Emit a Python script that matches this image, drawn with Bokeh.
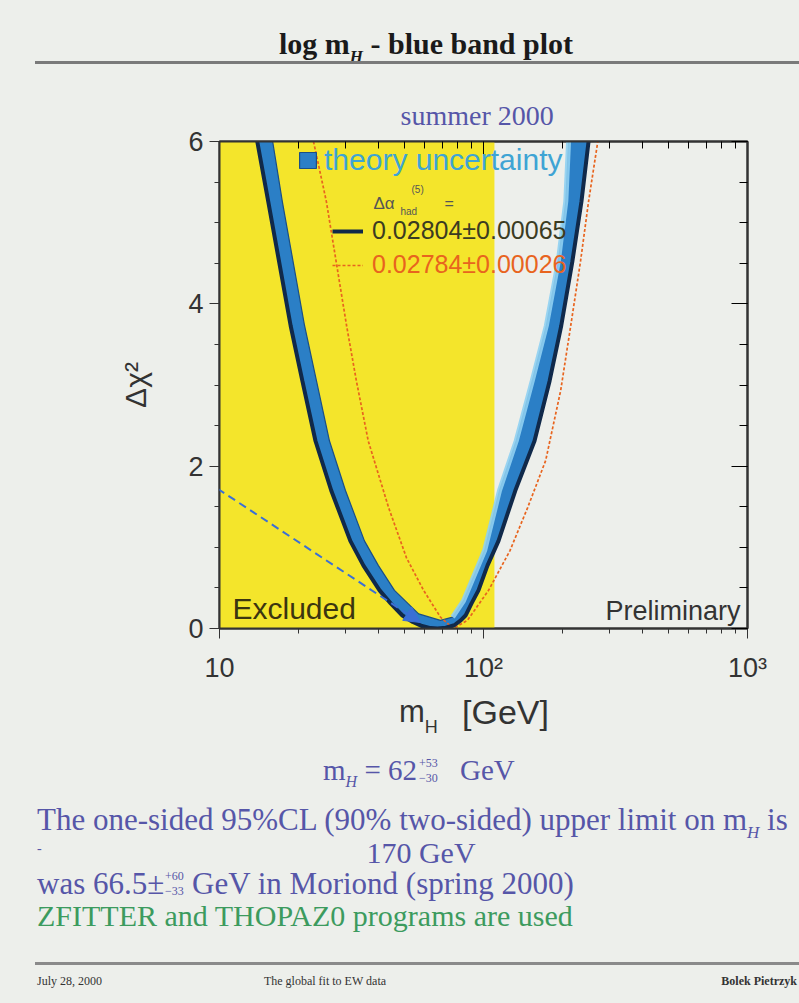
from bokeh.plotting import figure
from bokeh.layouts import column
from bokeh.models import (Range1d, LogAxis, LinearAxis, SingleIntervalTicker, FixedTicker,
                          BasicTickFormatter, CustomJSTickFormatter, BoxAnnotation, Label,
                          Arrow, NormalHead, Legend, LegendItem, Div)
from bokeh.embed import file_html
from bokeh.resources import INLINE

# ------------------------------------------------------------------ data
mass_range = (10, 1000)          # GeV, log axis
chi2_range = (0, 6)
excluded_limit = 110             # GeV, direct-search excluded region (yellow)

# central fit, Delta alpha_had = 0.02804 +- 0.00065 (dark line, outer edge of the band)
fit_mass = [13.9, 15.3, 18.6, 20.6, 23.1, 26.5, 31.3, 35.1, 40.4, 44.5, 49.3,
            54.0, 58.5, 63.0, 67.0, 72.0, 77.5, 82.0, 85.5, 90.1, 95.7, 103.5,
            114, 132, 156, 178, 197, 217, 235, 250]
fit_chi2 = [6.0, 5.26, 3.73, 3.05, 2.31, 1.70, 1.08, 0.775, 0.47, 0.31, 0.16,
            0.08, 0.03, 0.005, 0.0, 0.01, 0.04, 0.10, 0.16, 0.31, 0.47, 0.775,
            1.08, 1.70, 2.31, 3.05, 3.73, 4.52, 5.26, 6.0]

# inner edge of the theory-uncertainty band
band_inner_mass = [15.9, 17.3, 21.0, 23.3, 26.1, 30.0, 35.4, 40.0, 46.0, 56.8, 68.7,
                   76.4, 84.0, 101, 115, 133, 153, 173, 192, 205, 210]
band_inner_chi2 = [6.0, 5.26, 3.73, 3.05, 2.31, 1.70, 1.08, 0.775, 0.47, 0.18, 0.10,
                   0.14, 0.34, 0.96, 1.70, 2.31, 3.05, 3.73, 4.52, 5.26, 6.0]

# alternative fit, Delta alpha_had = 0.02784 +- 0.00026 (red dotted)
alt_mass = [22.7, 25.4, 30.3, 33.0, 36.6, 43.7, 51.1, 59.3, 68.7, 76.9,
            86.9, 104.5, 126, 147, 172, 196, 214, 233, 250, 271]
alt_chi2 = [6.0, 5.26, 3.73, 3.05, 2.31, 1.49, 0.87, 0.47, 0.14, 0.0,
            0.10, 0.47, 0.96, 1.49, 2.07, 2.93, 3.73, 4.52, 5.26, 6.0]

x_major_ticks = [10, 100, 1000]
x_minor_ticks = [k * d for d in (10, 100) for k in range(2, 10)]
x_tick_labels = {10: "10", 100: "10\u00b2", 1000: "10\u00b3"}

# ------------------------------------------------------------------ style
BG = "#edefeb"
YELLOW = "#f4e52b"
BAND = "#2b7fc6"
DARK = "#10294a"
RED = "#e8641e"
TXT = "#333333"
BLUE_TXT = "#5656a8"
GREEN_TXT = "#3c9b5e"
SANS = "Liberation Sans"
SERIF = "Liberation Serif"

PAGE_W = 799
TOP_H = 86
FIG_H = 602
BOT_H = 1003 - TOP_H - FIG_H

p = figure(width=PAGE_W, height=FIG_H, x_axis_type="log",
           x_range=Range1d(*mass_range), y_range=Range1d(*chi2_range),
           output_backend="svg", toolbar_location=None,
           min_border_left=219, min_border_right=52,
           min_border_top=140 - TOP_H, min_border_bottom=60)
p.background_fill_color = BG
p.border_fill_color = BG
p.outline_line_color = "#333333"
p.outline_line_width = 2
p.grid.visible = False

# "summer 2000" as the plot title
p.title.text = "summer 2000"
p.title.text_font = SERIF
p.title.text_font_size = "28px"
p.title.text_font_style = "normal"
p.title.text_color = BLUE_TXT
p.title.align = "left"
p.title.offset = 181
p.title.standoff = 22

# page pixel of frame bottom-left -> screen units of in-frame annotations
FX, FY = 219, 628
def sx(px):
    return px - FX
def sy(py):
    return FY - py

# excluded region
p.add_layout(BoxAnnotation(left=mass_range[0], right=excluded_limit,
                           fill_color=YELLOW, fill_alpha=1.0,
                           line_alpha=0, level="underlay"))

# theory band
band = p.patch(fit_mass + band_inner_mass[::-1], fit_chi2 + band_inner_chi2[::-1],
               fill_color=BAND, line_color="#1b4f86", line_width=1.2)
n_right = 10
p.line(band_inner_mass[-n_right:], band_inner_chi2[-n_right:],
       line_color="#8fd0f2", line_width=5, line_alpha=0.9)
# red dotted alternative
alt = p.line(alt_mass, alt_chi2, line_color=RED, line_width=1.7, line_dash="3 2")
# central fit line
fit = p.line(fit_mass, fit_chi2, line_color=DARK, line_width=4)

# ------------------------------------------------------------------ axes
xticker = FixedTicker(ticks=x_major_ticks, minor_ticks=x_minor_ticks)
yticker = SingleIntervalTicker(interval=2, num_minor_ticks=4)
xa = p.xaxis[0]
xa.ticker = xticker
xa.formatter = BasicTickFormatter()
xa.major_label_overrides = x_tick_labels
ya = p.yaxis[0]
ya.ticker = yticker
for ax in (xa, ya):
    ax.axis_line_width = 2
    ax.axis_line_color = "#333333"
    ax.major_tick_line_color = "#333333"
    ax.minor_tick_line_color = "#333333"
    ax.major_tick_in = 0
    ax.major_tick_out = 10
    ax.minor_tick_in = 0
    ax.minor_tick_out = 5
    ax.major_label_text_font = SANS
    ax.major_label_text_font_size = "27px"
    ax.major_label_text_color = TXT
xa.major_label_standoff = 14
ya.major_label_standoff = 6
ya.axis_label = "\u0394\u03c7\u00b2"
ya.axis_label_text_font = SANS
ya.axis_label_text_font_size = "30px"
ya.axis_label_text_font_style = "normal"
ya.axis_label_text_color = TXT
ya.axis_label_standoff = 33

blank = CustomJSTickFormatter(code="return ''")
top = LogAxis(ticker=xticker, formatter=blank,
              major_tick_in=14, major_tick_out=0,
              minor_tick_in=7, minor_tick_out=0,
              major_label_text_font_size="1px", major_label_standoff=0,
              axis_line_width=2, axis_line_color="#333333")
right = LinearAxis(ticker=yticker, formatter=blank,
                   major_tick_in=16, major_tick_out=0,
                   minor_tick_in=8, minor_tick_out=0,
                   major_label_text_font_size="1px", major_label_standoff=0,
                   axis_line_width=2, axis_line_color="#333333")
p.add_layout(top, "above")
p.add_layout(right, "right")

# ------------------------------------------------------------------ legends
def legend(items, loc, color, size, gw, gh, standoff):
    lg = Legend(items=items, location=loc, padding=0, margin=0, spacing=0,
                border_line_alpha=0, background_fill_alpha=0,
                label_text_font=SANS, label_text_font_size=size,
                label_text_color=color, glyph_width=gw, glyph_height=gh,
                label_standoff=standoff)
    p.add_layout(lg, "center")

legend([LegendItem(label="theory uncertainty", renderers=[band])],
       (sx(297), sy(177)), "#3ea4d4", "30px", 21, 20, 6)
legend([LegendItem(label="0.02804\u00b10.00065", renderers=[fit])],
       (sx(332), sy(245)), "#3b3b22", "25px", 31, 16, 9)
legend([LegendItem(label="0.02784\u00b10.00026", renderers=[alt])],
       (sx(332), sy(279)), RED, "25px", 31, 16, 9)

def lab(text, x, y, size, color=TXT, font=SANS, align="left", style="normal"):
    p.add_layout(Label(x=sx(x), y=sy(y), x_units="screen", y_units="screen",
                       text=text, text_font=font, text_font_size=size,
                       text_color=color, text_align=align, text_baseline="middle",
                       text_font_style=style))

# Delta alpha_had^(5) =
lab("\u0394\u03b1", 373, 203, "17px", "#555555")
lab("(5)", 411, 189, "10px", "#555555")
lab("had", 400, 211, "10px", "#555555")
lab("=", 444, 203, "16px", "#555555")

lab("Excluded", 232, 608, "30px", "#3b3510")
lab("Preliminary", 740, 610, "27px", TXT, align="right")

# ------------------------------------------------------------------ arrow
ARROW = "#3a6fd6"
p.add_layout(Arrow(end=NormalHead(size=16, fill_color=ARROW, line_color=ARROW),
                   x_start=sx(0), y_start=sy(345), x_end=sx(420), y_end=sy(622),
                   start_units="screen", end_units="screen",
                   line_color=ARROW, line_width=2, line_dash="8 5"))

# ------------------------------------------------------------------ page texts (HTML)
def span(text, x, y, size, color, font=SERIF, weight="normal", align="left"):
    tx = {"center": "-50%", "right": "-100%"}.get(align, "0")
    return (f'<span style="position:absolute;left:{x}px;top:{y}px;'
            f'transform:translate({tx},-50%);white-space:nowrap;line-height:0.9;'
            f"font-family:'{font}';font-size:{size}px;font-weight:{weight};"
            f'color:{color}">{text}</span>')

def sub(t, size, dy, italic=True):
    st = "italic" if italic else "normal"
    return (f'<span style="position:relative;top:{dy}px;font-size:{size}px;'
            f'font-style:{st}">{t}</span>')

def rule(y, h, color):
    return (f'<div style="position:absolute;left:35px;top:{y}px;width:764px;'
            f'height:{h}px;background:{color}"></div>')

def box(inner, h):
    return (f'<div style="position:relative;width:{PAGE_W}px;height:{h}px;'
            f'overflow:hidden;background:{BG}">{inner}</div>')

top_html = box(
    span("log m" + sub("H", 17, 8) + " - blue band plot", 426, 43, 30, "#1a1a1a",
         weight="bold", align="center")
    + rule(60.5, 3, "#7a7a7a"),
    TOP_H)

o = TOP_H + FIG_H   # page y of the bottom block
bot_html = box(
    span("m" + sub("H", 18, 11, italic=False), 399, 712 - o, 31, TXT, font=SANS)
    + span("[GeV]", 462, 712 - o, 34, TXT, font=SANS)
    + span("m" + sub("H", 16, 7) + " = 62", 323, 770 - o, 29, BLUE_TXT)
    + span("+53", 419, 763 - o, 12, BLUE_TXT)
    + span("\u221230", 419, 778 - o, 12, BLUE_TXT)
    + span("GeV", 460, 770 - o, 29, BLUE_TXT)
    + span("The one-sided 95%CL (90% two-sided) upper limit on m" + sub("H", 17, 8)
           + " is", 37, 820 - o, 31, BLUE_TXT)
    + span("-", 37, 849 - o, 14, BLUE_TXT)
    + span("170 GeV", 421, 852 - o, 30, BLUE_TXT, align="center")
    + span("was 66.5\u00b1", 37, 884 - o, 31, BLUE_TXT)
    + span("+60", 165, 876 - o, 12, BLUE_TXT)
    + span("\u221233", 165, 891 - o, 12, BLUE_TXT)
    + span("GeV in Moriond (spring 2000)", 192, 884 - o, 31, BLUE_TXT)
    + span("ZFITTER and THOPAZ0 programs are used", 37, 915 - o, 30, GREEN_TXT)
    + rule(961.5 - o, 3, "#8a8a8a")
    + span("July 28, 2000", 37, 981 - o, 12, TXT)
    + span("The global fit to EW data", 325, 981 - o, 12, TXT, align="center")
    + span("Bolek Pietrzyk", 797, 981 - o, 12, TXT, weight="bold", align="right"),
    BOT_H)

top_div = Div(text=top_html, width=PAGE_W, height=TOP_H, margin=0)
bot_div = Div(text=bot_html, width=PAGE_W, height=BOT_H, margin=0)
p.margin = 0
page = column(top_div, p, bot_div, spacing=0, margin=0,
              styles={"background-color": BG})

open("out.html", "w").write(file_html(page, INLINE))
